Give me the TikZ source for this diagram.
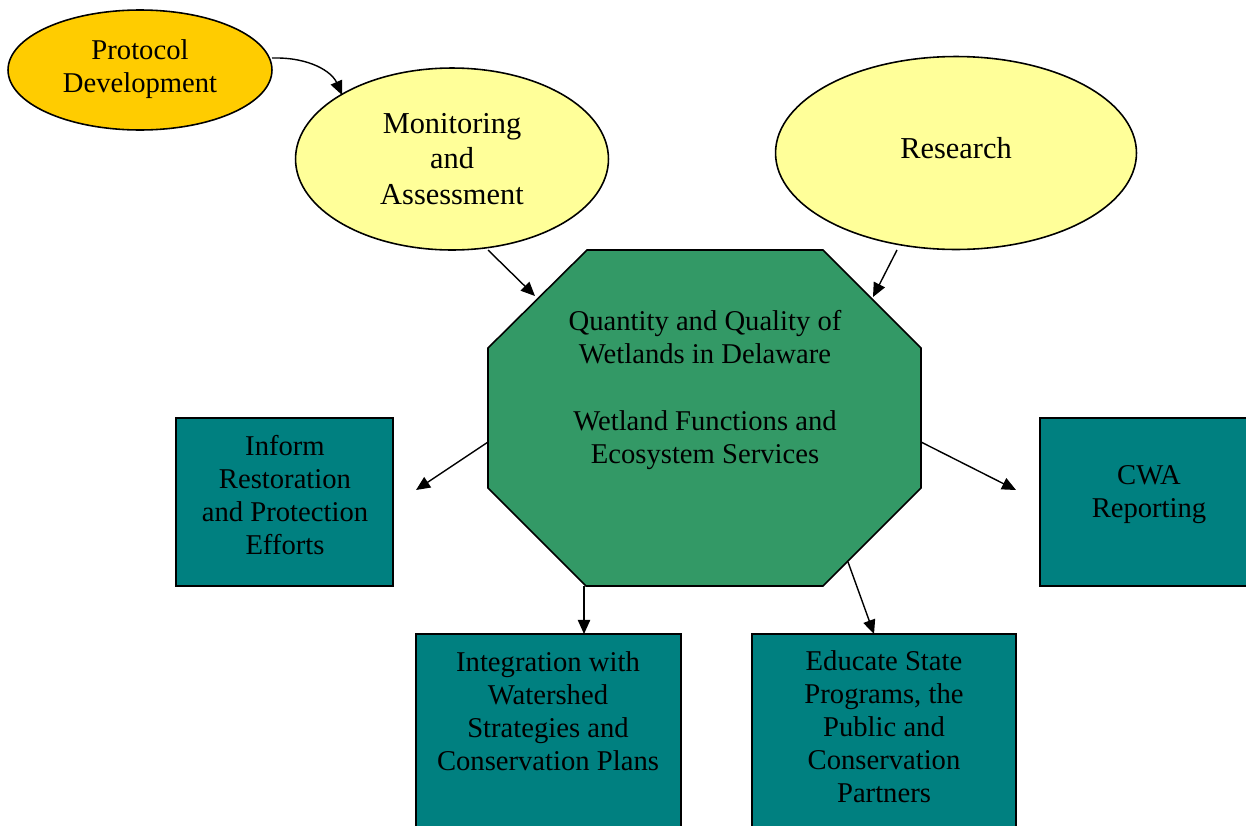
\documentclass[tikz,border=0pt]{standalone}
\usepackage{fontspec}
\setmainfont{Liberation Serif}
\usetikzlibrary{arrows.meta,shapes.geometric}
\definecolor{protocolc}{HTML}{FFCC00}
\definecolor{lighty}{HTML}{FFFF99}
\definecolor{octc}{HTML}{339966}
\definecolor{tealc}{HTML}{008080}
\begin{document}
\begin{tikzpicture}[x=0.02cm,y=-0.02cm,
 txt/.style={align=center,font=\fontsize{16.3}{18.8}\selectfont,inner sep=0},
 bigtxt/.style={align=center,font=\fontsize{17.3}{20.2}\selectfont,inner sep=0},
 ell/.style={ellipse,draw,line width=0.9pt,inner sep=0},
 boxn/.style={rectangle,draw,line width=0.9pt,fill=tealc,inner sep=0},
 arr/.style={-{Triangle[length=8pt,width=7pt]},line width=0.8pt}]
\useasboundingbox (0,0) rectangle (1246,825);
\clip (0,0) rectangle (1246,825);
% ellipses
\node[ell,fill=protocolc,minimum width=5.28cm,minimum height=2.4cm] (prot) at (140,70) {};
\node[txt] (protT) at (140,69) {Protocol\\Development};
\node[ell,fill=lighty,minimum width=6.26cm,minimum height=3.64cm] (mon) at (452,159) {};
\node[bigtxt] (monT) at (452,159) {Monitoring\\and\\Assessment};
\node[ell,fill=lighty,minimum width=7.22cm,minimum height=3.86cm] (res) at (956,153) {};
\node[bigtxt] (resT) at (956,148) {Research};
% octagon
\draw[line width=0.9pt,fill=octc] (587,250) -- (823,250) -- (921,348) -- (921,488) -- (823,586) -- (586,586) -- (488,488) -- (488,348) -- cycle;
\node[txt] (oct) at (705,390) {Quantity and Quality of\\Wetlands in Delaware\\[18.8pt]Wetland Functions and\\Ecosystem Services};
% boxes
\node[boxn,minimum width=4.34cm,minimum height=3.36cm] (inf) at (284.5,502) {};
\node[txt] (infT) at (285,495) {Inform\\Restoration\\and Protection\\Efforts};
\node[boxn,minimum width=4.36cm,minimum height=3.36cm] (cwa) at (1149,502) {};
\node[txt] (cwaT) at (1149,495) {CWA\\Reporting};
\node[boxn,minimum width=5.3cm,minimum height=5.32cm] (integ) at (548.5,767) {};
\node[txt] (integT) at (548,711) {Integration with\\Watershed\\Strategies and\\Conservation Plans};
\node[boxn,minimum width=5.28cm,minimum height=5.32cm] (edu) at (884,767) {};
\node[txt] (eduT) at (884,727) {Educate State\\Programs, the\\Public and\\Conservation\\Partners};
% connector ends
\coordinate (pS) at (272,58);
\coordinate (pE) at (342,95);
\coordinate (mS) at (488,250);
\coordinate (mE) at (535,296);
\coordinate (rS) at (897,250);
\coordinate (rE) at (873,297);
\coordinate (iS) at (488,442);
\coordinate (iE) at (416,490);
\coordinate (cS) at (921,442);
\coordinate (cE) at (1016,490);
\coordinate (gS) at (584,586);
\coordinate (gE) at (584,634);
\coordinate (eS) at (848,562);
\coordinate (eE) at (874,634);
% connectors
\draw[arr] (pS) .. controls (310,57) and (332,72) .. (pE);
\draw[arr] (mS) -- (mE);
\draw[arr] (rS) -- (rE);
\draw[arr] (iS) -- (iE);
\draw[arr] (cS) -- (cE);
\draw[arr] (gS) -- (gE);
\draw[arr] (eS) -- (eE);
\end{tikzpicture}
\end{document}
